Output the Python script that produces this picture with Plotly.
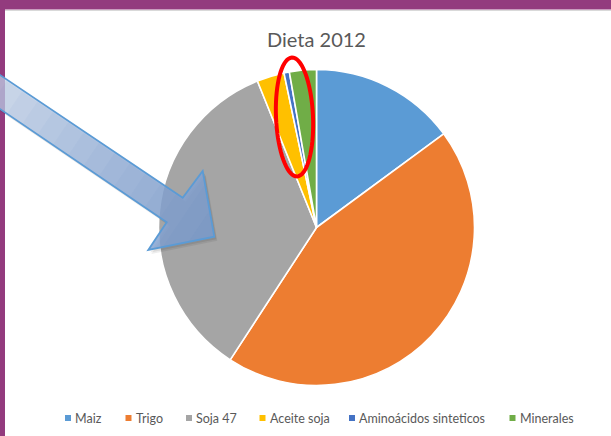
import math
import plotly.graph_objects as go

W, H = 611, 436

# ---- data ---------------------------------------------------------------
categories = ["Maiz", "Trigo", "Soja 47", "Aceite soja",
              "Aminoácidos sinteticos", "Minerales"]
shares = [14.9, 44.3, 34.7, 2.8, 0.55, 2.75]
colors = ["#5B9BD5", "#ED7D31", "#A5A5A5", "#FFC000", "#4472C4", "#70AD47"]
title_text = "Dieta 2012"

# legend layout (pixel x of each swatch centre)
legend_x = [68, 128.5, 189, 262.5, 352, 512.5]
legend_y = 418


# ---- helpers: pixel -> paper coordinates ----------------------------------
def px(x):
    return x / W


def py(y):
    return 1 - y / H


def path_from(points):
    parts = []
    for i, (x, y) in enumerate(points):
        parts.append(("M" if i == 0 else "L") + f"{px(x):.5f},{py(y):.5f}")
    return " ".join(parts) + " Z"


def clip_halfplane(poly, u, t0):
    """Keep the part of poly where dot(p, u) >= t0 (Sutherland-Hodgman)."""
    out = []
    n = len(poly)
    for i in range(n):
        a, b = poly[i], poly[(i + 1) % n]
        ta = a[0] * u[0] + a[1] * u[1] - t0
        tb = b[0] * u[0] + b[1] * u[1] - t0
        if ta >= 0:
            out.append(a)
        if (ta >= 0) != (tb >= 0):
            s = ta / (ta - tb)
            out.append((a[0] + s * (b[0] - a[0]), a[1] + s * (b[1] - a[1])))
    return out


fig = go.Figure()

fig.add_trace(go.Pie(
    labels=categories,
    values=shares,
    sort=False,
    direction="clockwise",
    rotation=0,
    textinfo="none",
    hoverinfo="label+percent",
    marker=dict(colors=colors, line=dict(color="white", width=1.6)),
    domain=dict(x=[px(158.5), px(474.5)], y=[py(385.5), py(69.5)]),
    showlegend=False,
))

shapes = []

# slide frame (purple band on top and left)
frame = "#933B7E"
shapes.append(dict(type="rect", xref="paper", yref="paper", layer="above",
                   x0=0, x1=1, y0=py(9.5), y1=1.02,
                   fillcolor=frame, line=dict(width=0)))
shapes.append(dict(type="rect", xref="paper", yref="paper", layer="above",
                   x0=-0.01, x1=px(5), y0=-0.02, y1=1.02,
                   fillcolor=frame, line=dict(width=0)))
shapes.append(dict(type="line", xref="paper", yref="paper", layer="above",
                   x0=px(5), x1=1, y0=py(10.5), y1=py(10.5),
                   line=dict(color="#D9D9D9", width=1)))

# block arrow pointing at the "Soja 47" slice
arrow = [(-8, 69.6), (182.7, 197.7), (202.7, 171.0), (214.3, 236.7),
         (148.3, 250.0), (166.7, 222.3), (-8, 103.6)]
ux, uy = 1.0, 0.676
norm = math.hypot(ux, uy)
u = (ux / norm, uy / norm)
ts = [p[0] * u[0] + p[1] * u[1] for p in arrow]
tmin, tmax = min(ts), max(ts)

# soft shadow
for dx, dy, a in [(3, 4, 0.07), (2, 2.5, 0.08)]:
    shadow = [(x + dx, y + dy) for x, y in arrow]
    shapes.append(dict(type="path", xref="paper", yref="paper", layer="above",
                       path=path_from(shadow),
                       fillcolor=f"rgba(0,0,0,{a})", line=dict(width=0)))

# base fill
shapes.append(dict(type="path", xref="paper", yref="paper", layer="above",
                   path=path_from(arrow),
                   fillcolor="rgba(200,216,240,0.72)", line=dict(width=0)))
# stacked overlays darken the arrow towards its tip
steps = 14
for k in range(1, steps + 1):
    t0 = tmin + (tmax - tmin) * k / (steps + 1)
    part = clip_halfplane(arrow, u, t0)
    if len(part) >= 3:
        shapes.append(dict(type="path", xref="paper", yref="paper",
                           layer="above", path=path_from(part),
                           fillcolor="rgba(70,110,190,0.045)",
                           line=dict(width=0)))
# outline
shapes.append(dict(type="path", xref="paper", yref="paper", layer="above",
                   path=path_from(arrow), fillcolor="rgba(0,0,0,0)",
                   line=dict(color="#5B9BD5", width=1.8)))

# red ellipse around the three small slices
cx, cy, ra, rb, tilt = 294.5, 117.0, 18.5, 59.5, math.radians(-2.5)
ell = []
for i in range(72):
    th = 2 * math.pi * i / 72
    ex, ey = ra * math.cos(th), rb * math.sin(th)
    ell.append((cx + ex * math.cos(tilt) - ey * math.sin(tilt),
                cy + ex * math.sin(tilt) + ey * math.cos(tilt)))
shapes.append(dict(type="path", xref="paper", yref="paper", layer="above",
                   path=path_from(ell), fillcolor="rgba(0,0,0,0)",
                   line=dict(color="#FF0000", width=4)))

# legend swatches
for xc, col in zip(legend_x, colors):
    shapes.append(dict(type="rect", xref="paper", yref="paper", layer="above",
                       x0=px(xc - 3), x1=px(xc + 3),
                       y0=py(legend_y + 3), y1=py(legend_y - 3),
                       fillcolor=col, line=dict(width=0)))

annotations = [dict(
    text=title_text, x=px(316.5), y=py(39), xref="paper", yref="paper",
    showarrow=False, xanchor="center", yanchor="middle",
    font=dict(family="Lato, sans-serif", size=20, color="#595959"),
)]
for xc, name in zip(legend_x, categories):
    annotations.append(dict(
        text=name, x=px(xc + 5), y=py(legend_y), xref="paper", yref="paper",
        showarrow=False, xanchor="left", yanchor="middle",
        font=dict(family="Lato, sans-serif", size=12.5, color="#595959"),
    ))

fig.update_layout(
    width=W, height=H,
    margin=dict(l=0, r=0, t=0, b=0),
    paper_bgcolor="white",
    plot_bgcolor="white",
    shapes=shapes,
    annotations=annotations,
    showlegend=False,
)

fig.write_html("out.html")
